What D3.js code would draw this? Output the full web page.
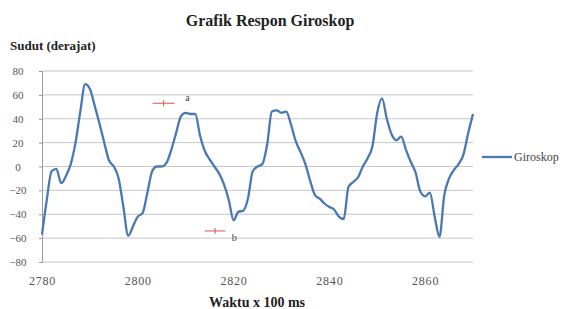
<!DOCTYPE html>
<html>
<head>
<meta charset="utf-8">
<script src="https://cdn.jsdelivr.net/npm/d3@7"></script>
<style>
  body { margin: 0; background: #fff; }
  svg { display: block; font-family: "Liberation Serif", "DejaVu Serif", serif; }
</style>
</head>
<body>
<div id="chart"></div>
<script>
// DATA
const times = d3.range(2780, 2871);   // waktu (x 100 ms)
const sudut = [
  -57, -28, -4, -2, -14, -8, 2, 20, 46, 69,
  65, 51, 36, 20, 5, 0, -10, -34, -58, -50,
  -42, -39, -22, -4, 0, 0, 3, 14, 28, 42,
  45, 44, 44, 26, 13, 6, 0, -6, -15, -28,
  -45, -38, -37, -27, -4, 0, 2, 18, 46, 47,
  45, 46, 35, 21, 12, 2, -12, -24, -27, -31,
  -34, -36, -42, -44, -17, -13, -9, 0, 7, 17,
  45, 57, 40, 27, 22, 25, 14, 4, -5, -21,
  -25, -22, -42, -59, -24, -10, -3, 2, 10, 28,
  44
];
const yTicks = [-80, -60, -40, -20, 0, 20, 40, 60, 80];
const xTicks = [2780, 2800, 2820, 2840, 2860];
// annotation marks: [t start, t end, value, label]
const marks = [
  {t0: 2803.1, t1: 2807.7, v: 53, label: "a"},
  {t0: 2814.0, t1: 2818.3, v: -54, label: "b"}
];

// VIEWER
const settings = {
  width: 567,
  height: 309,
  left: 42,
  right: 473,
  top: 71,
  bottom: 262
};

const svg = d3.select("#chart").append("svg")
  .attr("width", settings.width)
  .attr("height", settings.height);

const x = d3.scaleLinear().domain([2780, 2870]).range([settings.left, settings.right]);
const y = d3.scaleLinear().domain([-80, 80]).range([settings.bottom, settings.top]);

// gridlines
svg.append("g")
  .selectAll("line")
  .data(yTicks)
  .join("line")
    .attr("x1", settings.left)
    .attr("x2", settings.right)
    .attr("y1", d => y(d))
    .attr("y2", d => y(d))
    .attr("stroke", "#c6c6c6")
    .attr("stroke-width", 1);

// y axis
const yAxis = svg.append("g")
  .attr("transform", `translate(${settings.left},0)`)
  .call(d3.axisLeft(y).tickValues(yTicks).tickSize(3).tickPadding(17));
yAxis.select(".domain").attr("stroke", "#9a9a9a");
yAxis.selectAll(".tick line").attr("stroke", "#9a9a9a");
yAxis.selectAll(".tick text")
  .attr("text-anchor", "middle")
  .attr("x", -24)
  .attr("font-family", "Liberation Serif")
  .attr("font-size", 11)
  .attr("fill", "#555");

// x axis (labels only, bottom gridline acts as axis)
const xAxis = svg.append("g")
  .attr("transform", `translate(0,${settings.bottom})`)
  .call(d3.axisBottom(x).tickValues(xTicks).tickFormat(d3.format("d")).tickSize(0).tickPadding(14));
xAxis.select(".domain").remove();
xAxis.selectAll(".tick text")
  .attr("font-family", "Liberation Serif")
  .attr("font-size", 12)
  .attr("letter-spacing", 0.8)
  .attr("fill", "#555");

// line
const line = d3.line()
  .x((d, i) => x(times[i]))
  .y(d => y(d))
  .curve(d3.curveMonotoneX);

svg.append("path")
  .datum(sudut)
  .attr("fill", "none")
  .attr("stroke", "#4a78b5")
  .attr("stroke-width", 2.3)
  .attr("stroke-linejoin", "round")
  .attr("d", line);

// annotations
const gMark = svg.append("g");
marks.forEach(m => {
  const xm = (x(m.t0) + x(m.t1)) / 2;
  gMark.append("line")
    .attr("x1", x(m.t0)).attr("x2", x(m.t1))
    .attr("y1", y(m.v)).attr("y2", y(m.v))
    .attr("stroke", "#d9534f").attr("stroke-width", 1);
  gMark.append("line")
    .attr("x1", xm).attr("x2", xm)
    .attr("y1", y(m.v) - 3).attr("y2", y(m.v) + 3)
    .attr("stroke", "#d9534f").attr("stroke-width", 1);
});
gMark.append("text")
  .attr("x", x(2809.9)).attr("y", y(55))
  .attr("font-size", 10).attr("fill", "#444")
  .text(marks[0].label);
gMark.append("text")
  .attr("x", x(2819.6)).attr("y", y(-62))
  .attr("font-size", 10).attr("fill", "#444")
  .text(marks[1].label);

// title & axis labels
svg.append("text")
  .attr("x", 270).attr("y", 26)
  .attr("text-anchor", "middle")
  .attr("font-weight", "bold")
  .attr("font-size", 16)
  .attr("fill", "#222")
  .text("Grafik Respon Giroskop");

svg.append("text")
  .attr("x", 10).attr("y", 50)
  .attr("font-weight", "bold")
  .attr("font-size", 13)
  .attr("fill", "#222")
  .text("Sudut  (derajat)");

svg.append("text")
  .attr("x", 257).attr("y", 307)
  .attr("text-anchor", "middle")
  .attr("font-weight", "bold")
  .attr("font-size", 14)
  .attr("fill", "#222")
  .text("Waktu  x 100 ms");

// legend
const legend = svg.append("g").attr("transform", "translate(482,157)");
legend.append("line")
  .attr("x1", 0).attr("x2", 30)
  .attr("stroke", "#4a78b5").attr("stroke-width", 2.3);
legend.append("text")
  .attr("x", 32).attr("y", 4)
  .attr("font-size", 12)
  .attr("fill", "#444")
  .text("Giroskop");
</script>
</body>
</html>
